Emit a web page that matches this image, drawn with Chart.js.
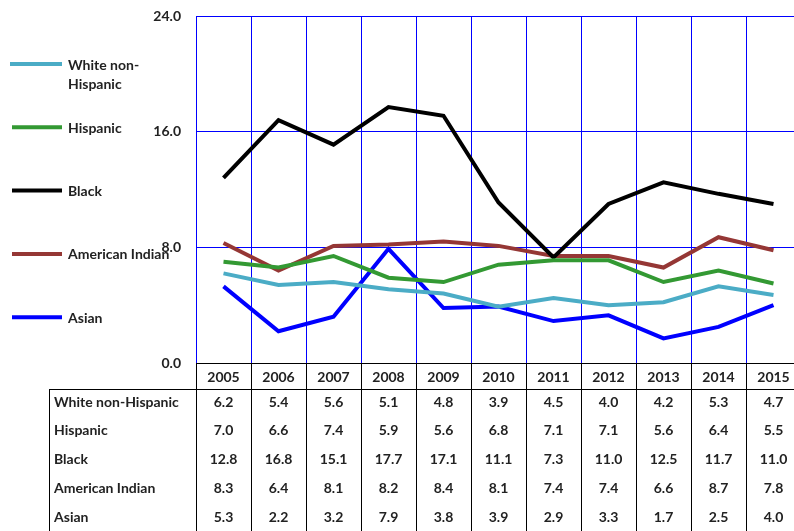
<!DOCTYPE html>
<html>
<head>
<meta charset="utf-8">
<script src="https://cdn.jsdelivr.net/npm/chart.js@4.4.1/dist/chart.umd.min.js"></script>
<style>
  html, body { margin: 0; padding: 0; background: #fff; overflow: hidden; }
  #wrap { width: 802px; height: 531px; }
</style>
</head>
<body>
<div id="wrap"><canvas id="rateChart"></canvas></div>
<script>
const years = ['2005', '2006', '2007', '2008', '2009', '2010', '2011', '2012', '2013', '2014', '2015'];
const seriesNames = ['White non-Hispanic', 'Hispanic', 'Black', 'American Indian', 'Asian'];
const legendText = ['White non-\nHispanic', 'Hispanic', 'Black', 'American Indian', 'Asian'];
const whiteNonHispanic = [6.2, 5.4, 5.6, 5.1, 4.8, 3.9, 4.5, 4.0, 4.2, 5.3, 4.7];
const hispanic = [7.0, 6.6, 7.4, 5.9, 5.6, 6.8, 7.1, 7.1, 5.6, 6.4, 5.5];
const black = [12.8, 16.8, 15.1, 17.7, 17.1, 11.1, 7.3, 11.0, 12.5, 11.7, 11.0];
const americanIndian = [8.3, 6.4, 8.1, 8.2, 8.4, 8.1, 7.4, 7.4, 6.6, 8.7, 7.8];
const asian = [5.3, 2.2, 3.2, 7.9, 3.8, 3.9, 2.9, 3.3, 1.7, 2.5, 4.0];
const yTicks = [0, 8, 16, 24];

const seriesValues = [whiteNonHispanic, hispanic, black, americanIndian, asian];
const seriesColors = ['#4BACC6', '#339933', '#000000', '#953735', '#0000FF'];

const FAMILY = 'Lato, "Open Sans", sans-serif';
const FONT = 'bold 14px ' + FAMILY;
const TEXT = '#222222';

// draws the side legend and the data table under the plot
const tablePlugin = {
    id: 'tablePlugin',
    afterDraw(chart) {
        const ctx = chart.ctx;
        const x = chart.scales.x;
        const area = chart.chartArea;
        const half = (x.getPixelForValue(1) - x.getPixelForValue(0)) / 2;
        const top = area.bottom;
        const headBottom = top + 26;
        const rowH = 28.8;
        const labelLeft = 49;
        const bottom = chart.height;

        ctx.save();
        ctx.strokeStyle = '#000';
        ctx.lineWidth = 1;
        ctx.beginPath();
        ctx.moveTo(area.left, top + 0.5);
        ctx.lineTo(area.right, top + 0.5);
        ctx.moveTo(labelLeft, headBottom + 0.5);
        ctx.lineTo(area.right, headBottom + 0.5);
        ctx.moveTo(labelLeft + 0.5, headBottom);
        ctx.lineTo(labelLeft + 0.5, bottom);
        for (let i = 0; i <= years.length; i++) {
            const bx = Math.round(x.getPixelForValue(0) - half + i * 2 * half) + 0.5;
            ctx.moveTo(bx, top);
            ctx.lineTo(bx, bottom);
        }
        ctx.stroke();

        ctx.font = FONT;
        ctx.fillStyle = TEXT;
        ctx.textBaseline = 'middle';
        ctx.textAlign = 'center';
        years.forEach((yr, i) => {
            ctx.fillText(yr, x.getPixelForValue(i), top + 14);
        });
        seriesNames.forEach((name, r) => {
            const cy = headBottom + 13 + r * rowH;
            ctx.textAlign = 'left';
            ctx.fillText(name, 54, cy);
            ctx.textAlign = 'center';
            seriesValues[r].forEach((v, i) => {
                ctx.fillText(v.toFixed(1), x.getPixelForValue(i), cy);
            });
        });

        // legend at the left
        legendText.forEach((txt, i) => {
            const ly = 64 + i * 63.3;
            ctx.strokeStyle = seriesColors[i];
            ctx.lineWidth = 4;
            ctx.beginPath();
            ctx.moveTo(i === 0 ? 10 : 12, ly);
            ctx.lineTo(62, ly);
            ctx.stroke();
            ctx.fillStyle = TEXT;
            ctx.textAlign = 'left';
            txt.split('\n').forEach((part, k) => {
                ctx.fillText(part, 68, ly + 1 + k * 19);
            });
        });
        ctx.restore();
    }
};

new Chart(document.getElementById('rateChart'), {
    type: 'line',
    data: {
        labels: years,
        datasets: seriesNames.map((name, i) => ({
            label: name,
            data: seriesValues[i],
            borderColor: seriesColors[i],
            backgroundColor: seriesColors[i],
            borderWidth: 4,
            pointRadius: 0,
            tension: 0
        }))
    },
    options: {
        responsive: true,
        maintainAspectRatio: false,
        animation: false,
        layout: { padding: { top: 16, right: 1, left: 0, bottom: 0 } },
        scales: {
            x: {
                offset: true,
                ticks: { display: false },
                grid: { offset: true, color: '#0000FF', lineWidth: 1, drawTicks: false },
                border: { color: '#000000' },
                afterFit: function (scale) { scale.height = 168; }
            },
            y: {
                min: 0,
                max: 24,
                afterBuildTicks: function (scale) {
                    scale.ticks = yTicks.map(v => ({ value: v }));
                },
                ticks: {
                    padding: 15,
                    color: TEXT,
                    font: { family: FAMILY, size: 14, weight: 'bold' },
                    callback: function (v) { return Number(v).toFixed(1); }
                },
                grid: { color: '#0000FF', lineWidth: 1, drawTicks: false },
                border: { color: '#0000FF' },
                afterFit: function (scale) {
                    scale.width = 196;
                    scale.paddingTop = 0;
                    scale.paddingBottom = 0;
                }
            }
        },
        plugins: {
            legend: { display: false },
            tooltip: { enabled: false }
        }
    },
    plugins: [tablePlugin]
});
</script>
</body>
</html>
